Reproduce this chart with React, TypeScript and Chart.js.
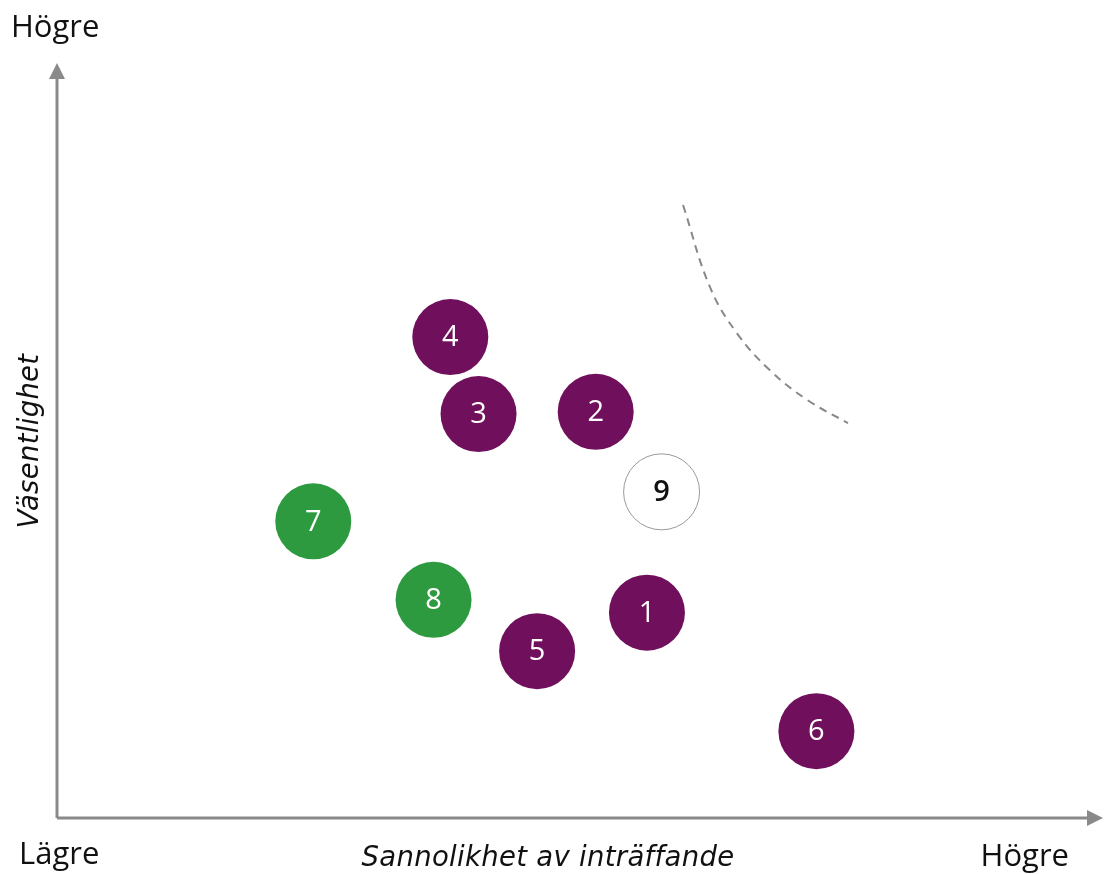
import React, { useEffect, useRef } from "react";
import { Chart, registerables } from "chart.js";

Chart.register(...registerables);

const categories = ["1", "2", "3", "4", "5", "6", "7", "8", "9"];
const likelihood = [56.4, 51.5, 40.3, 37.6, 45.9, 72.6, 24.5, 36.0, 57.8];
const significance = [27.2, 53.8, 53.5, 63.7, 22.1, 11.5, 39.3, 28.9, 43.2];
const groups = ["risk", "risk", "risk", "risk", "risk", "risk", "opportunity", "opportunity", "other"];

const curveX = [59.85, 62.43, 65.01, 68.16, 71.7, 75.62];
const curveY = [81.2, 70.3, 64.2, 59.3, 55.4, 52.3];

const xAxisTitle = "Sannolikhet av inträffande";
const yAxisTitle = "Väsentlighet";
const lowLabel = "Lägre";
const highLabel = "Högre";

const groupFill: Record<string, string> = {
  risk: "#700f5b",
  opportunity: "#2e9a40",
  other: "#ffffff",
};
const groupText: Record<string, string> = {
  risk: "#ffffff",
  opportunity: "#ffffff",
  other: "#111111",
};

const FONT = "'Open Sans', 'DejaVu Sans', sans-serif";
const TITLE_FONT = "'DejaVu Sans', sans-serif";

const decorPlugin = {
  id: "decor",
  beforeDatasetsDraw(chart: any) {
    const { ctx, chartArea } = chart;
    const { left, right, top, bottom } = chartArea;
    ctx.save();
    ctx.strokeStyle = "#8a8a8a";
    ctx.fillStyle = "#8a8a8a";
    ctx.lineWidth = 3;
    ctx.beginPath();
    ctx.moveTo(left, bottom);
    ctx.lineTo(left, top + 14);
    ctx.moveTo(left, bottom);
    ctx.lineTo(right - 14, bottom);
    ctx.stroke();
    ctx.beginPath();
    ctx.moveTo(left, top);
    ctx.lineTo(left - 8, top + 16);
    ctx.lineTo(left + 8, top + 16);
    ctx.closePath();
    ctx.fill();
    ctx.beginPath();
    ctx.moveTo(right, bottom);
    ctx.lineTo(right - 16, bottom - 8);
    ctx.lineTo(right - 16, bottom + 8);
    ctx.closePath();
    ctx.fill();

    ctx.fillStyle = "#111111";
    ctx.font = `31px ${FONT}`;
    ctx.textBaseline = "middle";
    ctx.textAlign = "left";
    ctx.fillText(highLabel, 11, 28);
    ctx.fillText(lowLabel, 19, 855);
    ctx.textAlign = "right";
    ctx.fillText(highLabel, 1069, 857);
    ctx.font = `oblique 27.5px ${TITLE_FONT}`;
    (ctx as any).letterSpacing = "0.3px";
    ctx.textAlign = "center";
    ctx.fillText(xAxisTitle, 548, 859);
    ctx.save();
    ctx.translate(31, 441);
    ctx.rotate(-Math.PI / 2);
    ctx.fillText(yAxisTitle, 0, 0);
    ctx.restore();
    (ctx as any).letterSpacing = "0px";
    ctx.restore();
  },
  afterDatasetsDraw(chart: any) {
    const { ctx } = chart;
    const xs = chart.scales.x;
    const ys = chart.scales.y;
    ctx.save();
    ctx.textAlign = "center";
    ctx.textBaseline = "middle";
    categories.forEach((c, i) => {
      const g = groups[i];
      ctx.font = g === "other" ? `600 29px ${FONT}` : `29px ${FONT}`;
      ctx.fillStyle = groupText[g];
      ctx.fillText(c, xs.getPixelForValue(likelihood[i]), ys.getPixelForValue(significance[i]) + 1);
    });
    ctx.restore();
  },
};

export default function App() {
  const ref = useRef<HTMLCanvasElement>(null);
  useEffect(() => {
    if (!ref.current) return;
    const chart = new Chart(ref.current, {
      type: "scatter",
      data: {
        datasets: [
          {
            label: "curve",
            type: "line",
            data: curveX.map((x, i) => ({ x, y: curveY[i] })),
            borderColor: "#888888",
            borderWidth: 2,
            borderDash: [8, 6],
            pointRadius: 0,
            tension: 0.4,
            fill: false,
          } as any,
          {
            label: "items",
            data: likelihood.map((x, i) => ({ x, y: significance[i] })),
            pointRadius: 38,
            pointHoverRadius: 38,
            backgroundColor: groups.map((g) => groupFill[g]),
            borderColor: groups.map((g) => (g === "other" ? "#999999" : groupFill[g])),
            borderWidth: groups.map((g) => (g === "other" ? 1 : 0)),
          },
        ],
      },
      options: {
        animation: false,
        responsive: false,
        events: [],
        layout: { autoPadding: false, padding: { left: 57, top: 63, right: 1, bottom: 56 } },
        plugins: { legend: { display: false }, tooltip: { enabled: false } },
        scales: {
          x: { type: "linear", min: 0, max: 100, display: false },
          y: { type: "linear", min: 0, max: 100, display: false },
        },
      },
      plugins: [decorPlugin],
    });
    return () => chart.destroy();
  }, []);
  return (
    <div style={{ position: "fixed", left: 0, top: 0, width: 1104, height: 874, background: "#fff" }}>
      <canvas ref={ref} width={1104} height={874} style={{ width: 1104, height: 874, display: "block" }} />
    </div>
  );
}
